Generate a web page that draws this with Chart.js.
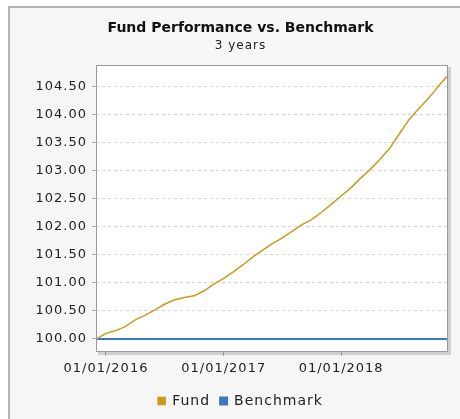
<!DOCTYPE html>
<html>
<head>
<meta charset="utf-8">
<script src="https://cdn.jsdelivr.net/npm/chart.js@4/dist/chart.umd.min.js"></script>
<style>
  html, body { margin: 0; padding: 0; background: #ffffff; overflow: hidden; width: 460px; height: 419px; }
  #panel { position: absolute; left: 8px; top: 6px; width: 470px; height: 420px;
           border-left: 2px solid #b4b4b4; border-top: 2px solid #b4b4b4; background: #f6f6f6; }
  #wrap { position: absolute; left: 0; top: 0; width: 461px; height: 411px; }
</style>
</head>
<body>
<div id="panel"><div id="wrap"><canvas id="c"></canvas></div></div>
<script>
// ---- data ----
const fundDates = [
  "2015-12-01","2016-01-01","2016-02-01","2016-03-01","2016-04-01","2016-05-01",
  "2016-06-01","2016-07-01","2016-08-01","2016-09-01","2016-10-01","2016-11-01",
  "2016-12-01","2017-01-01","2017-02-01","2017-03-01","2017-04-01","2017-05-01",
  "2017-06-01","2017-07-01","2017-08-01","2017-09-01","2017-10-01","2017-11-01",
  "2017-12-01","2018-01-01","2018-02-01","2018-03-01","2018-04-01","2018-05-01",
  "2018-06-01","2018-07-01","2018-08-01","2018-09-01","2018-10-01","2018-11-01",
  "2018-11-26"
];
const fundValues = [
  100.00,100.10,100.15,100.22,100.34,100.42,
  100.52,100.62,100.70,100.74,100.77,100.86,
  100.98,101.08,101.20,101.32,101.46,101.58,
  101.70,101.80,101.92,102.04,102.13,102.26,
  102.40,102.55,102.70,102.86,103.02,103.20,
  103.40,103.66,103.92,104.12,104.30,104.52,
  104.68
];
const benchmarkValues = fundValues.map(() => 100.00);
const xTickDates = ["2016-01-01","2017-01-01","2018-01-01"];
const xRange = ["2015-12-01","2018-11-26"];
const yRange = [99.786, 104.886];
const seriesNames = ["Fund","Benchmark"];
const seriesColors = ["#c99a1c","#3b7abf"];
const titleText = "Fund Performance vs. Benchmark";
const subtitleText = "3 years";

const toMs = s => Date.parse(s + "T00:00:00Z");
const fmtDate = v => {
  const d = new Date(v);
  const p = n => String(n).padStart(2,"0");
  return p(d.getUTCMonth()+1) + "/" + p(d.getUTCDate()) + "/" + d.getUTCFullYear();
};

// letter spacing for axis / legend text, none for the title
const spacing = {
  id: "spacing",
  beforeLayout(c){
    c.ctx.letterSpacing = "1px";
    const t = c.titleBlock;
    if (t && !t._noSpacing) {
      const orig = t.draw.bind(t);
      t.draw = function(a){ const ctx = this.ctx; const ls = ctx.letterSpacing;
        ctx.letterSpacing = "0px"; orig(a); ctx.letterSpacing = ls; };
      t._noSpacing = true;
    }
  },
  beforeDraw(c){ c.ctx.letterSpacing = "1px"; }
};

const plotFrame = {
  id: "plotFrame",
  beforeDraw(c){
    const {ctx, chartArea:a} = c;
    ctx.save();
    ctx.fillStyle = "#d0d0d0";
    ctx.fillRect(a.right + 1, a.top + 2, 3, a.bottom - a.top + 2);
    ctx.fillRect(a.left + 2, a.bottom + 1, a.right - a.left + 2, 3);
    ctx.fillStyle = "#ffffff";
    ctx.fillRect(a.left, a.top, a.right - a.left, a.bottom - a.top);
    ctx.restore();
  },
  afterDatasetsDraw(c){
    const {ctx, chartArea:a} = c;
    ctx.save();
    ctx.letterSpacing = "0px";
    ctx.strokeStyle = "#9a9a9a";
    ctx.lineWidth = 1;
    ctx.strokeRect(Math.round(a.left) + 0.5, Math.round(a.top) + 0.5,
                   Math.round(a.right - a.left), Math.round(a.bottom - a.top));
    ctx.restore();
  }
};

const font = "'DejaVu Sans', sans-serif";

new Chart(document.getElementById("c"), {
  type: "line",
  data: {
    datasets: [
      { label: seriesNames[0], data: fundDates.map((d,i) => ({x: toMs(d), y: fundValues[i]})),
        borderColor: seriesColors[0], backgroundColor: seriesColors[0],
        borderWidth: 1.5, pointRadius: 0, tension: 0, fill: false },
      { label: seriesNames[1], data: fundDates.map((d,i) => ({x: toMs(d), y: benchmarkValues[i]})),
        borderColor: seriesColors[1], backgroundColor: seriesColors[1],
        borderWidth: 2, pointRadius: 0, tension: 0, fill: false }
    ]
  },
  options: {
    responsive: true, maintainAspectRatio: false, animation: false,
    layout: { padding: { left: 0, right: 0, top: 0, bottom: 1 } },
    plugins: {
      title: { display: true, text: titleText, color: "#111",
               font: { family: font, size: 14, weight: "bold", lineHeight: 1.2 },
               padding: { top: 11.6, bottom: 1.9 } },
      subtitle: { display: true, text: subtitleText, color: "#222",
               font: { family: font, size: 12, lineHeight: 1.2 },
               padding: { top: 0, bottom: 12.3 } },
      legend: { position: "bottom",
        labels: { boxWidth: 7, boxHeight: 7, padding: 10, color: "#222",
                  font: { family: font, size: 14 } } },
      tooltip: { enabled: false }
    },
    scales: {
      x: { type: "linear", min: toMs(xRange[0]), max: toMs(xRange[1]),
        afterBuildTicks(s){ s.ticks = xTickDates.map(d => ({ value: toMs(d) })); },
        afterFit(s){ s.height = 33; },
        ticks: { callback: v => fmtDate(v), color: "#222", padding: 5, maxRotation: 0, autoSkip: false,
                 font: { family: font, size: 13 } },
        grid: { drawOnChartArea: false, drawTicks: true, tickLength: 5, tickColor: "#999" },
        border: { display: false } },
      y: { min: yRange[0], max: yRange[1],
        afterFit(s){ s.width = 86; },
        ticks: { stepSize: 0.5, includeBounds: false, callback: v => Number(v).toFixed(2),
                 color: "#222", padding: 5, font: { family: font, size: 13 } },
        grid: { color: "#d6d6d6", lineWidth: 1, tickLength: 4, tickColor: "#aaa", tickBorderDash: [] },
        border: { display: false, dash: [3,3] } },
      yRight: { position: "right", display: true,
        afterFit(s){ s.width = 24; },
        ticks: { display: false }, grid: { display: false }, border: { display: false } }
    }
  },
  plugins: [spacing, plotFrame]
});
</script>
</body>
</html>
